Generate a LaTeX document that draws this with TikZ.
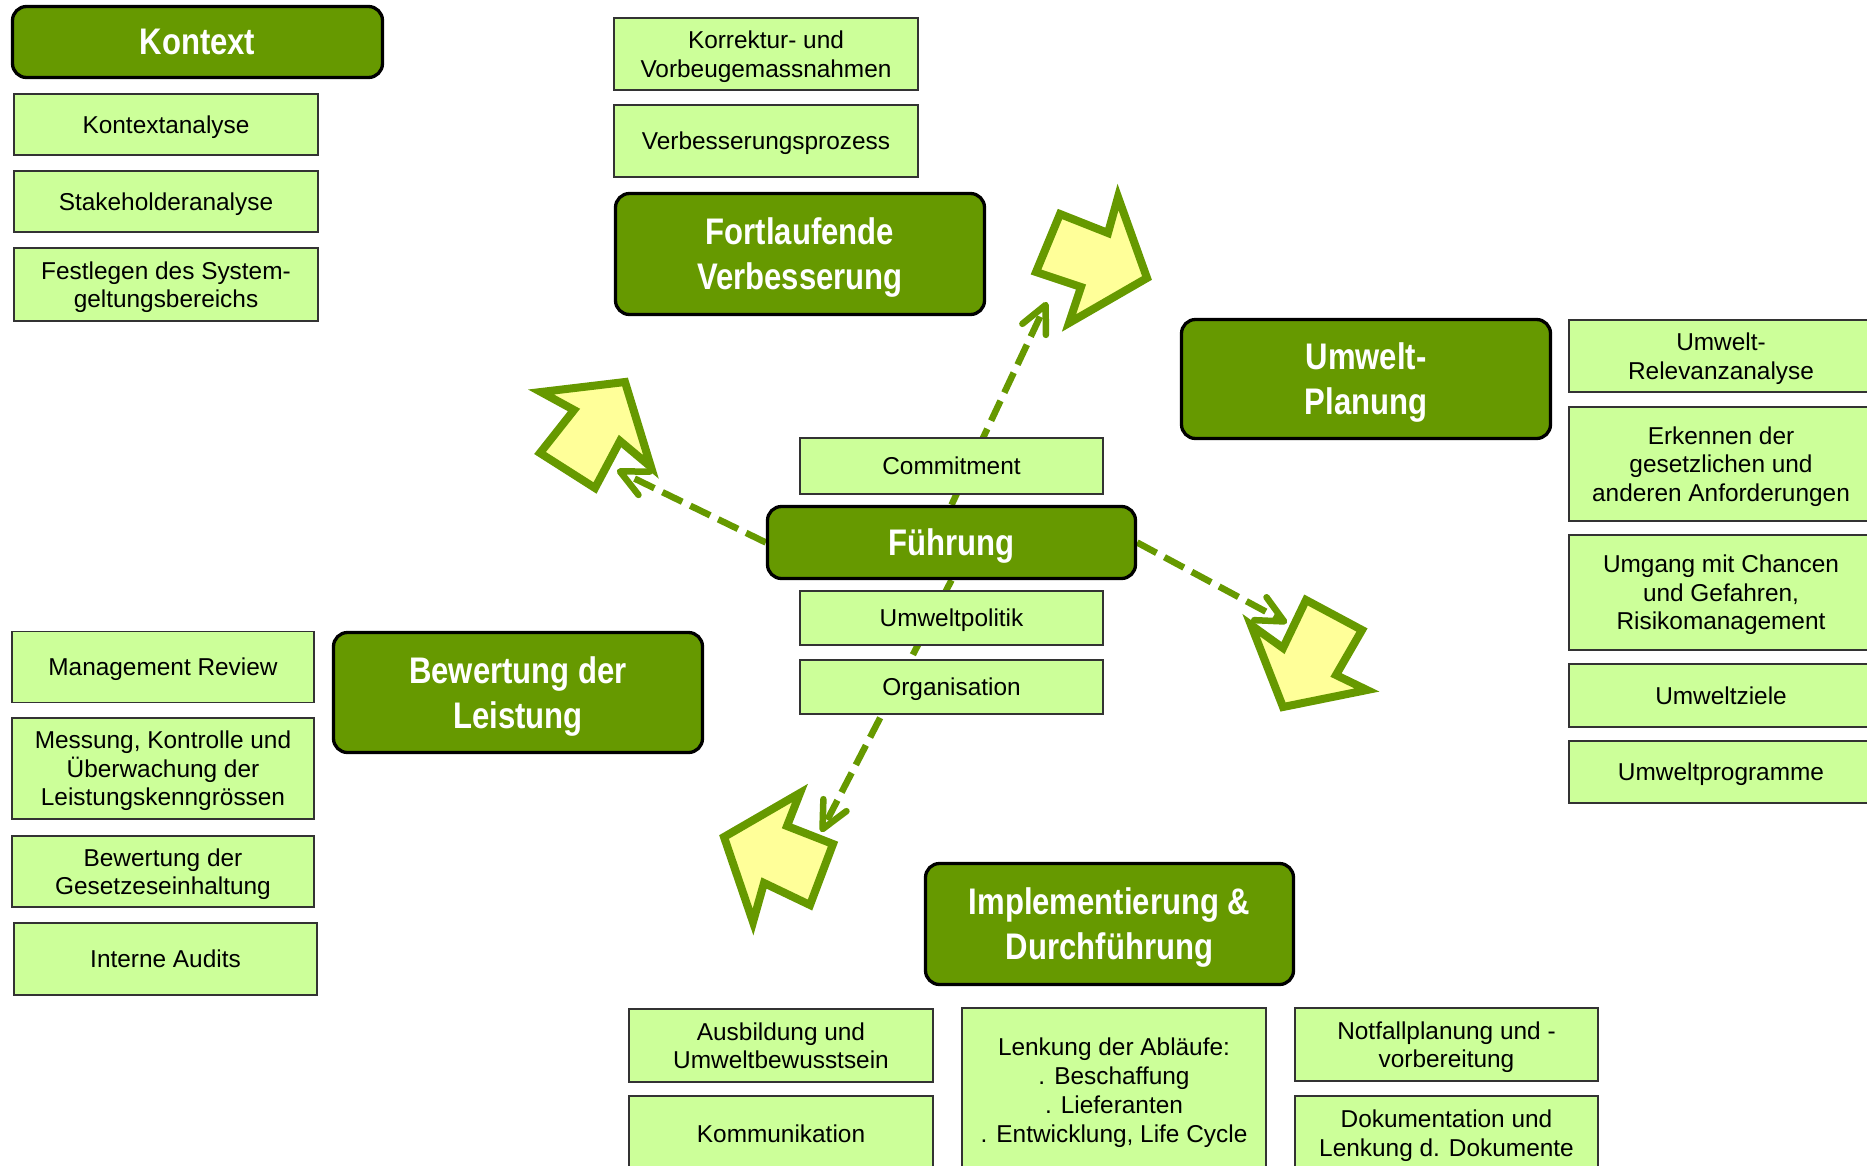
\documentclass[tikz,border=0pt]{standalone}
\usepackage{fontspec}
\setmainfont{Liberation Sans}
\newfontfamily\headfamily[FakeStretch=0.84]{Liberation Sans}
\usetikzlibrary{arrows.meta,backgrounds}

\definecolor{darkgreen}{HTML}{669900}
\definecolor{palegreen}{HTML}{CCFF99}
\definecolor{paleyellow}{HTML}{FFFF99}

\tikzset{
    head/.style={draw=black, line width=3.3bp, fill=darkgreen, rounded corners=14bp,
        text=white, align=center, inner sep=0pt, text depth=-4.5bp,
        font=\headfamily\bfseries\fontsize{37bp}{45bp}\selectfont},
    item/.style={draw=black!80, line width=1.5bp, fill=palegreen, align=center, inner sep=0pt,
        text depth=-1.5bp, font=\fontsize{24.4bp}{28.5bp}\selectfont},
    wh/.style 2 args={minimum width=#1bp, minimum height=#2bp},
    flow/.style={darkgreen, line width=6.5bp, dash pattern=on 22bp off 9bp,
        -{Straight Barb[length=27bp, width=26bp, round]}},
    bigarrow/.style={draw=darkgreen, line width=8bp, fill=paleyellow, line join=miter}
}

\begin{document}
\begin{tikzpicture}[x=1bp, y=-1bp]
        \useasboundingbox (0,0) rectangle (1867,1165);
        \clip (0,0) rectangle (1867,1165);

        % Kontext
        \node[head, wh={370}{71}] (kontext) at (197.5,42) {Kontext};
        \node[item, wh={304}{61}] (kontextanalyse) at (166,124.5) {Kontextanalyse};
        \node[item, wh={304}{61}] (stakeholder) at (166,201.5) {Stakeholderanalyse};
        \node[item, wh={304}{73}] (festlegen) at (166,284.5) {Festlegen des System-\\geltungsbereichs};

        % Fortlaufende Verbesserung
        \node[item, wh={304}{72}] (korrektur) at (766,54) {Korrektur- und\\Vorbeugemassnahmen};
        \node[item, wh={304}{72}] (prozess) at (766,141) {Verbesserungsprozess};
        \node[head, wh={369}{121}] (verbesserung) at (800,254) {Fortlaufende\\Verbesserung};

        % Umwelt-Planung
        \node[head, wh={369}{119}] (planung) at (1366,379) {Umwelt-\\Planung};
        \node[item, wh={304}{72}] (relevanz) at (1721,356) {Umwelt-\\Relevanzanalyse};
        \node[item, wh={304}{114}] (erkennen) at (1721,464) {Erkennen der\\gesetzlichen und\\anderen Anforderungen};
        \node[item, wh={304}{115}] (umgang) at (1721,592.5) {Umgang mit Chancen\\und Gefahren,\\Risikomanagement};
        \node[item, wh={304}{63}] (ziele) at (1721,695.5) {Umweltziele};
        \node[item, wh={304}{62}] (programme) at (1721,772) {Umweltprogramme};

        % Fuehrung
        \node[item, wh={303}{56}] (commitment) at (951.5,466) {Commitment};
        \node[head, wh={368}{72}] (fuehrung) at (951.5,542.5) {Führung};
        \node[item, wh={303}{54}] (politik) at (951.5,618) {Umweltpolitik};
        \node[item, wh={303}{54}] (organisation) at (951.5,687) {Organisation};

        % Bewertung der Leistung
        \node[head, wh={369}{120}] (bewertung) at (518,692.5) {Bewertung der\\Leistung};
        \node[item, wh={302}{71}] (review) at (163,667) {Management Review};
        \node[item, wh={302}{101}] (messung) at (163,768.5) {Messung, Kontrolle und\\Überwachung der\\Leistungskenngrössen};
        \node[item, wh={302}{71}] (gesetz) at (163,871.5) {Bewertung der\\Gesetzeseinhaltung};
        \node[item, wh={303}{72}] (audits) at (165.5,959) {Interne Audits};

        % Implementierung & Durchfuehrung
        \node[head, wh={368}{121}] (implementierung) at (1109.5,924) {Implementierung \&\\Durchführung};
        \node[item, wh={304}{73}] (ausbildung) at (781,1045.5) {Ausbildung und\\Umweltbewusstsein};
        \node[item, wh={304}{75}] (kommunikation) at (781,1133.5) {Kommunikation};
        \node[item, wh={304}{164}, font=\fontsize{24.4bp}{29.2bp}\selectfont] (lenkung) at (1114,1090)
            {Lenkung der Abläufe:\\. Beschaffung\\. Lieferanten\\. Entwicklung, Life Cycle};
        \node[item, wh={303}{73}] (notfall) at (1446.5,1044.5) {Notfallplanung und -\\vorbereitung};
        \node[item, wh={303}{74}] (dokumentation) at (1446.5,1133) {Dokumentation und\\Lenkung d. Dokumente};

        % cycle arrows and flows from Fuehrung
        \coordinate (tipup) at (1047,302);
        \coordinate (tipright) at (1287,623);
        \coordinate (tipdown) at (821,832);
        \coordinate (tipleft) at (617,470);

        \begin{pgfonlayer}{background}
            \draw[bigarrow] (1060,214) -- (1108,233) -- (1118,197) -- (1147,278) -- (1069,323) -- (1081,287) -- (1036,272) -- cycle;
            \draw[bigarrow] (1306,600) -- (1362,630) -- (1336,675) -- (1367,690) -- (1283,707) -- (1251,625) -- (1283,648) -- cycle;
            \draw[bigarrow] (800,793) -- (787,826) -- (833,844) -- (810,905) -- (764,883) -- (753,922) -- (724,837) -- cycle;
            \draw[bigarrow] (541,392) -- (625,382) -- (651,467) -- (620,441) -- (595,488) -- (540,453) -- (574,410) -- cycle;

            \draw[flow] (fuehrung.north) -- (tipup);
            \draw[flow] (fuehrung.east) -- (tipright);
            \draw[flow] (fuehrung.south) -- (tipdown);
            \draw[flow] (fuehrung.west) -- (tipleft);
        \end{pgfonlayer}
\end{tikzpicture}
\end{document}
